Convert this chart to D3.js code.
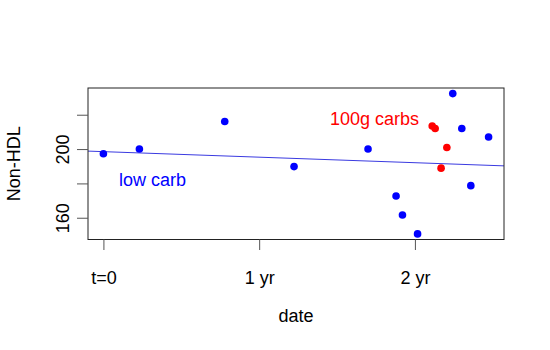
<!DOCTYPE html>
<html>
<head>
<meta charset="utf-8">
<script src="https://cdn.jsdelivr.net/npm/d3@7"></script>
<style>
  html, body { margin: 0; padding: 0; background: #fff; }
  text { font-family: "Liberation Sans", Arial, Helvetica, sans-serif; }
</style>
</head>
<body>
<svg id="chart" width="550" height="350"></svg>
<script>
// Data (x in years since t=0, y = Non-HDL)
const lowCarbX = [0.0, 0.231, 0.779, 1.224, 1.699, 1.879, 1.920, 2.017, 2.243, 2.301, 2.359, 2.473];
const lowCarbY = [197.3, 200.0, 216.1, 189.8, 200.0, 172.7, 161.6, 150.6, 232.3, 212.0, 178.7, 207.0];
const carbs100X = [2.111, 2.130, 2.205, 2.168];
const carbs100Y = [213.4, 212.0, 200.9, 188.9];
const fitIntercept = [198.5];
const fitSlope = [-3.22];
const xTickValues = [0, 1, 2];
const xTickLabels = ["t=0", "1 yr", "2 yr"];
const yTickValues = [160, 180, 200, 220];
const yTickLabels = ["160", "", "200", ""];

const svg = d3.select("#chart");
const pLeft = 88, pRight = 504, pTop = 88, pBottom = 239.5;
const fs = "18px";

const allX = lowCarbX.concat(carbs100X), allY = lowCarbY.concat(carbs100Y);
function padded(arr) {
  const lo = d3.min(arr), hi = d3.max(arr), p = (hi - lo) * 0.04;
  return [lo - p, hi + p];
}
const x = d3.scaleLinear().domain(padded(allX)).range([pLeft, pRight]);
const y = d3.scaleLinear().domain(padded(allY)).range([pBottom, pTop]);

// clip
svg.append("clipPath").attr("id", "clip").append("rect")
  .attr("x", pLeft).attr("y", pTop).attr("width", pRight - pLeft).attr("height", pBottom - pTop);

// regression line
const xd = x.domain();
svg.append("line")
  .attr("clip-path", "url(#clip)")
  .attr("x1", x(xd[0])).attr("y1", y(fitIntercept[0] + fitSlope[0] * xd[0]))
  .attr("x2", x(xd[1])).attr("y2", y(fitIntercept[0] + fitSlope[0] * xd[1]))
  .attr("stroke", "#3a3ae0").attr("stroke-width", 1);

// points
svg.append("g").selectAll("circle").data(lowCarbX.map((d, i) => [d, lowCarbY[i]]))
  .join("circle").attr("cx", d => x(d[0])).attr("cy", d => y(d[1])).attr("r", 3.8).attr("fill", "#0000ff");
svg.append("g").selectAll("circle").data(carbs100X.map((d, i) => [d, carbs100Y[i]]))
  .join("circle").attr("cx", d => x(d[0])).attr("cy", d => y(d[1])).attr("r", 3.8).attr("fill", "#ff0000");

// box
svg.append("rect").attr("x", pLeft).attr("y", pTop).attr("width", pRight - pLeft).attr("height", pBottom - pTop)
  .attr("fill", "none").attr("stroke", "#222").attr("stroke-width", 1);

// x axis
const xAxis = d3.axisBottom(x).tickValues(xTickValues)
  .tickFormat((d, i) => xTickLabels[i]).tickSize(10.5).tickPadding(21);
const gx = svg.append("g").attr("transform", `translate(0,${pBottom})`).call(xAxis);
gx.select(".domain").remove();
gx.selectAll(".tick line").attr("stroke", "#555");
gx.selectAll(".tick text").attr("font-size", fs).attr("fill", "#000")
  .attr("font-family", "Liberation Sans, Arial, sans-serif");

// y axis
const yAxis = d3.axisLeft(y).tickValues(yTickValues)
  .tickFormat((d, i) => yTickLabels[i]).tickSize(11).tickPadding(0);
const gy = svg.append("g").attr("transform", `translate(${pLeft},0)`).call(yAxis);
gy.select(".domain").remove();
gy.selectAll(".tick line").attr("stroke", "#555");
gy.selectAll(".tick text").remove();
gy.selectAll(".tick").filter((d, i) => yTickLabels[i] !== "")
  .append("text")
  .attr("transform", "translate(-25,0) rotate(-90)")
  .attr("text-anchor", "middle").attr("dy", "0.35em")
  .attr("font-size", fs).attr("fill", "#000")
  .attr("font-family", "Liberation Sans, Arial, sans-serif")
  .text((d) => yTickLabels[yTickValues.indexOf(d)]);

// axis titles
svg.append("text").attr("x", (pLeft + pRight) / 2).attr("y", 322)
  .attr("text-anchor", "middle").attr("font-size", fs).text("date");
svg.append("text").attr("transform", `translate(20,${(pTop + pBottom) / 2}) rotate(-90)`)
  .attr("text-anchor", "middle").attr("font-size", fs).text("Non-HDL");

// annotations
svg.append("text").attr("x", 119).attr("y", 186).attr("font-size", fs).attr("fill", "#0000ff").text("low carb");
svg.append("text").attr("x", 330).attr("y", 125).attr("font-size", fs).attr("fill", "#ff0000").text("100g carbs");
</script>
</body>
</html>
